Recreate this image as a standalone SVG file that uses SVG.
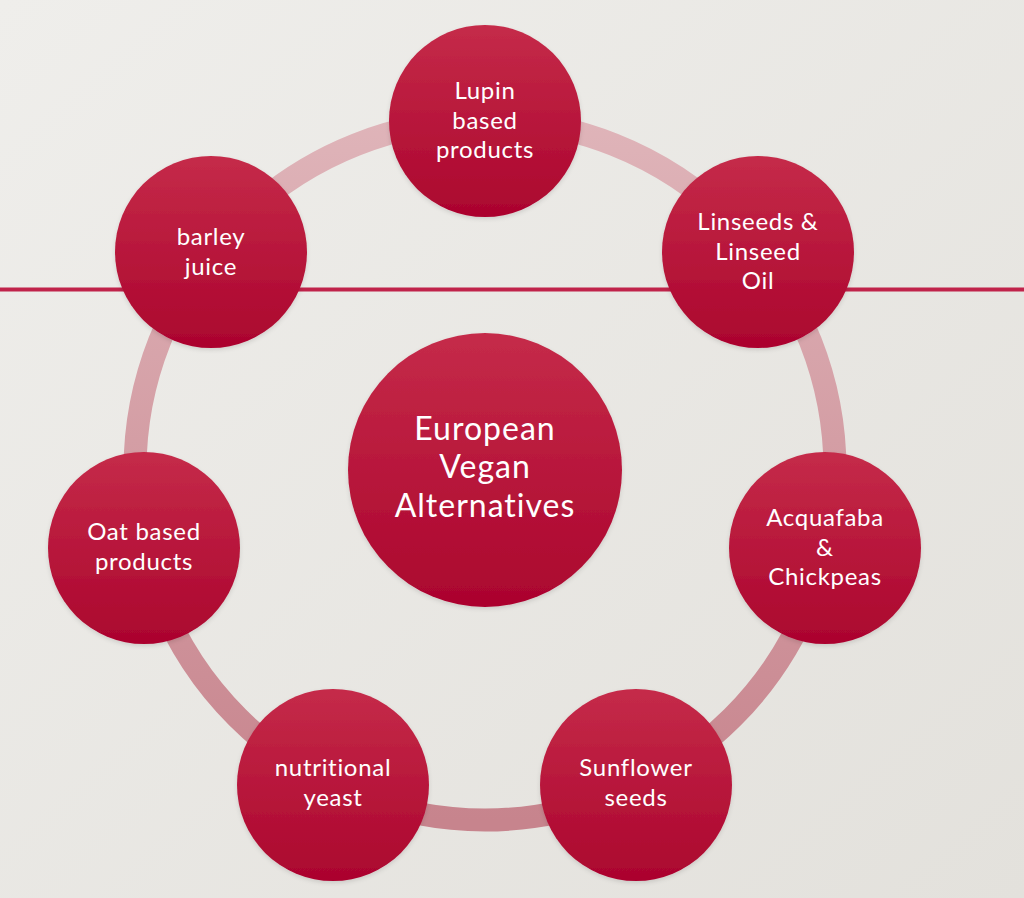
<svg xmlns="http://www.w3.org/2000/svg" width="1024" height="898" viewBox="0 0 1024 898">
<defs>
<linearGradient id="bg" x1="0" y1="0" x2="1" y2="1">
<stop offset="0" stop-color="#efeeeb"/>
<stop offset="1" stop-color="#e3e1dc"/>
</linearGradient>
<linearGradient id="node" x1="0" y1="0" x2="0" y2="1">
<stop offset="0" stop-color="#c52b49"/>
<stop offset="1" stop-color="#ab042e"/>
</linearGradient>
<linearGradient id="ring" gradientUnits="userSpaceOnUse" x1="0" y1="120" x2="0" y2="820">
<stop offset="0" stop-color="#dfb4b9"/>
<stop offset="1" stop-color="#c7848d"/>
</linearGradient>
<filter id="sh" x="-20%" y="-20%" width="140%" height="140%">
<feDropShadow dx="0" dy="2" stdDeviation="2" flood-color="#000" flood-opacity="0.12"/>
</filter>
</defs>
<style>
.n{fill:url(#node);filter:url(#sh)}
.t{fill:#ffffff;font-family:Lato,"Open Sans","Liberation Sans",sans-serif;font-size:24px;text-anchor:middle;letter-spacing:0.7px;font-variant-ligatures:none}
.c{font-size:32px;letter-spacing:1px}
</style>
<rect width="1024" height="898" fill="url(#bg)"/>
<rect x="0" y="287.5" width="1024" height="4" fill="#c0234a"/>
<g id="connectors">
<circle cx="485" cy="470" r="350" fill="none" stroke="url(#ring)" stroke-width="23"/>
</g>
<g id="center">
<circle class="n" cx="485" cy="470" r="137"/>
<text class="t c" x="485" y="440">European</text>
<text class="t c" x="485" y="478">Vegan</text>
<text class="t c" x="485" y="517">Alternatives</text>
</g>
<g id="lupin">
<circle class="n" cx="485" cy="121" r="96"/>
<text class="t" x="485" y="99">Lupin</text>
<text class="t" x="485" y="129">based</text>
<text class="t" x="485" y="158">products</text>
</g>
<g id="linseeds">
<circle class="n" cx="758" cy="252" r="96"/>
<text class="t" x="758" y="230">Linseeds &amp;</text>
<text class="t" x="758" y="260">Linseed</text>
<text class="t" x="758" y="289">Oil</text>
</g>
<g id="acquafaba">
<circle class="n" cx="825" cy="548" r="96"/>
<text class="t" x="825" y="526">Acquafaba</text>
<text class="t" x="825" y="556">&amp;</text>
<text class="t" x="825" y="585">Chickpeas</text>
</g>
<g id="sunflower">
<circle class="n" cx="636" cy="785" r="96"/>
<text class="t" x="636" y="776">Sunflower</text>
<text class="t" x="636" y="806">seeds</text>
</g>
<g id="nutritional">
<circle class="n" cx="333" cy="785" r="96"/>
<text class="t" x="333" y="776">nutritional</text>
<text class="t" x="333" y="806">yeast</text>
</g>
<g id="oat">
<circle class="n" cx="144" cy="548" r="96"/>
<text class="t" x="144" y="540">Oat based</text>
<text class="t" x="144" y="570">products</text>
</g>
<g id="barley">
<circle class="n" cx="211" cy="252" r="96"/>
<text class="t" x="211" y="245">barley</text>
<text class="t" x="211" y="275">juice</text>
</g>
</svg>
